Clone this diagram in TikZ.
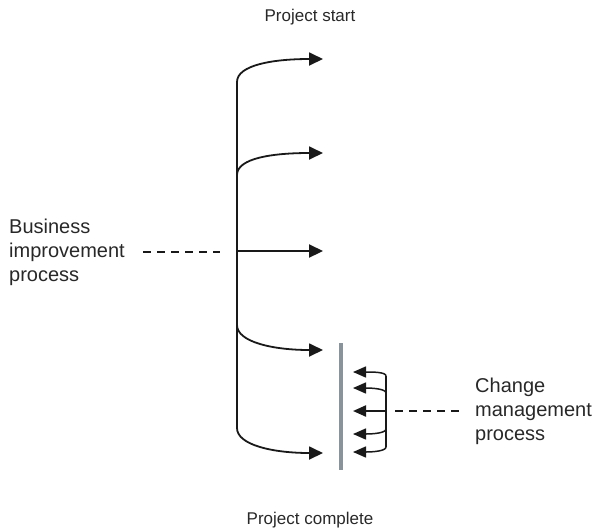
\documentclass[tikz,border=0pt]{standalone}
\usepackage{fontspec}
\setmainfont{Liberation Sans}
\usetikzlibrary{positioning,arrows.meta}
\definecolor{bargray}{RGB}{138,147,153}
\definecolor{txtgray}{RGB}{40,40,40}
\tikzstyle{txtbox}=[font=\fontsize{20}{24}\selectfont, text=txtgray, align=left, inner sep=0pt]
\tikzstyle{endbox}=[font=\fontsize{17}{20}\selectfont, text=txtgray, inner sep=0pt]
\tikzstyle{bline}=[-, line width=1.8pt, black!90]
\tikzstyle{barrow}=[bline, -{Triangle[length=14pt,width=13pt]}]
\tikzstyle{sarrow}=[-, line width=1.5pt, black!90, -{Triangle[length=13pt,width=11pt]}]
\tikzstyle{dline}=[-, line width=1.8pt, black!90, dash pattern=on 8pt off 6pt]
\tikzstyle{gbar}=[-, line width=4pt, draw=bargray]

\begin{document}
\begin{tikzpicture}[x=1pt, y=-1pt]
    \useasboundingbox (0,0) rectangle (596,531);

    \node (start) [endbox] at (310,17) {Project start};
    \node (finish) [endbox] at (310,520) {Project complete};

% main process line
    \coordinate (sp1) at (237,82);
    \coordinate (sp2) at (237,175);
    \coordinate (sp3) at (237,251);
    \coordinate (sp4) at (237,325);
    \coordinate (sp5) at (237,428);
    \coordinate (t1) at (323,59);
    \coordinate (t2) at (323,153);
    \coordinate (t3) at (323,251);
    \coordinate (t4) at (323,350);
    \coordinate (t5) at (323,453);

   \draw[bline] (sp1) -- (sp5);
   \draw[barrow] (sp1) .. controls +(0,-17) and +(-50,0) .. (t1);
   \draw[barrow] (sp2) .. controls +(0,-17) and +(-50,0) .. (t2);
   \draw[barrow, line width=2.2pt] (sp3) -- (t3);
   \draw[barrow] (sp4) .. controls +(0,17) and +(-50,0) .. (t4);
   \draw[barrow] (sp5) .. controls +(0,17) and +(-50,0) .. (t5);

% change management loop
    \coordinate (bartop) at (341,343);
    \coordinate (barbot) at (341,470);
   \draw[gbar] (bartop) -- (barbot);

    \coordinate (cp1) at (386,376);
    \coordinate (cp2) at (386,393);
    \coordinate (cp3) at (386,411);
    \coordinate (cp4) at (386,429);
    \coordinate (cp5) at (386,447);
    \coordinate (c1) at (353,372);
    \coordinate (c2) at (353,388);
    \coordinate (c3) at (353,411);
    \coordinate (c4) at (353,434);
    \coordinate (c5) at (353,452);

   \draw[sarrow, -] (cp1) -- (cp5);
   \draw[sarrow] (cp1) .. controls +(0,-4) and +(20,0) .. (c1);
   \draw[sarrow] (cp2) .. controls +(0,-4) and +(20,0) .. (c2);
   \draw[sarrow, line width=2.2pt] (cp3) -- (c3);
   \draw[sarrow] (cp4) .. controls +(0,4) and +(20,0) .. (c4);
   \draw[sarrow] (cp5) .. controls +(0,4) and +(20,0) .. (c5);

% labels with dashed leaders
    \coordinate (bizdash) at (143,252);
    \coordinate (bizend) at (220,252);
    \node (biz) [txtbox, left=18pt of bizdash] {Business\\improvement\\process};
   \draw[dline] (bizdash) -- (bizend);

    \coordinate (chgdash) at (463,411);
    \coordinate (chgend) at (395,411);
    \node (chg) [txtbox, right=12pt of chgdash] {Change\\management\\process};
   \draw[dline] (chgend) -- (chgdash);

\end{tikzpicture}
\end{document}
